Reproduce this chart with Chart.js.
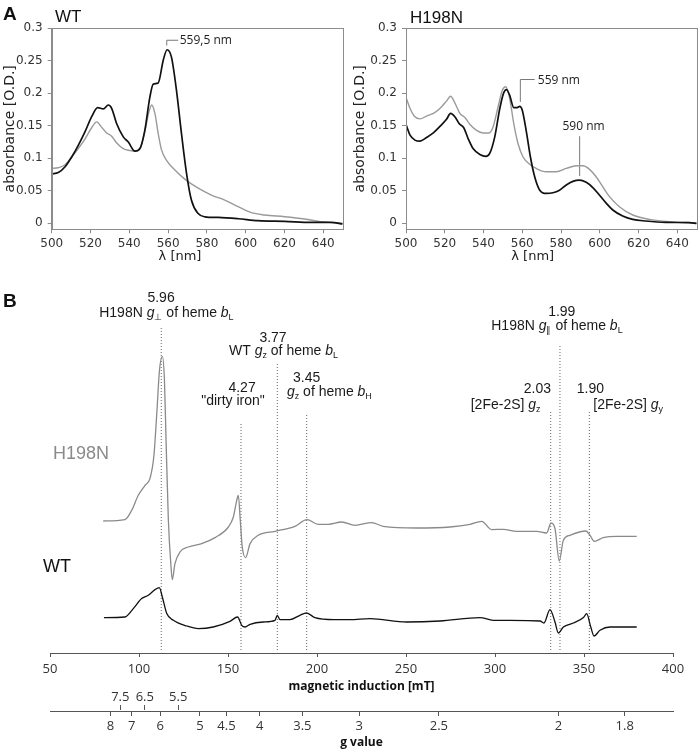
<!DOCTYPE html>
<html><head><meta charset="utf-8">
<script src="https://cdn.jsdelivr.net/npm/chart.js@4.4.1/dist/chart.umd.min.js"></script>
<style>
html,body{margin:0;padding:0;background:#fff;width:699px;height:751px;overflow:hidden;position:relative;}
canvas{position:absolute;display:block;}
.lbl{position:absolute;font-family:"Liberation Sans",Arial,sans-serif;white-space:nowrap;line-height:1;color:#111;}
</style></head><body>
<canvas id="cWT" width="350" height="270" style="left:0;top:0;width:350px;height:270px"></canvas>
<canvas id="cMut" width="349" height="270" style="left:350px;top:0;width:349px;height:270px"></canvas>
<canvas id="cEPR" width="699" height="420" style="left:0;top:280px;width:699px;height:420px"></canvas>
<canvas id="cG" width="699" height="60" style="left:0;top:691px;width:699px;height:60px"></canvas>
<div class="lbl" style="left:3px;top:4px;font-size:19px;font-weight:bold;">A</div>
<div class="lbl" style="left:55px;top:8px;font-size:17px;">WT</div>
<div class="lbl" style="left:410px;top:9px;font-size:17px;">H198N</div>
<div class="lbl" style="left:3px;top:291px;font-size:19px;font-weight:bold;">B</div>
<div class="lbl" style="left:53px;top:444px;font-size:18px;color:#8a8a8a;">H198N</div>
<div class="lbl" style="left:43px;top:557px;font-size:18px;">WT</div>
<script>
// ---------------- Panel A: absorbance spectra ----------------
const nmTickValues = [500,520,540,560,580,600,620,640];
const absTickValues = [0,0.05,0.1,0.15,0.2,0.25,0.3];
const absTickLabels = ['0','0.05','0.1','0.15','0.2','0.25','0.3'];

// WT, reduced (black)
const wtRedNm  = [500,503.4,506.9,510.3,513.7,517.2,520.6,523.7,526.6,529.2,530.9,533.4,536.9,539.5,542.9,545.5,548.0,550.6,552.3,554.9,557.5,559.5,561.7,564.3,566.9,569.5,572.0,575.5,578.9,585.8,596.1,606.3,620.1,633.8,644.1,650];
const wtRedAbs = [0.076,0.078,0.087,0.102,0.120,0.141,0.164,0.178,0.176,0.182,0.177,0.154,0.133,0.125,0.111,0.115,0.143,0.194,0.214,0.216,0.251,0.267,0.256,0.205,0.138,0.077,0.036,0.015,0.010,0.009,0.007,0.004,0.003,0.0015,0.0015,-0.001];
// WT, oxidized (grey)
const wtOxNm  = [500,503.4,506.9,510.3,513.7,517.2,520.6,523.2,525.7,528.3,530.9,533.4,536.9,540.3,542.9,545.5,548.0,550.1,551.5,553.2,554.9,556.6,559.2,563.5,568.6,575.5,582.3,589.2,596.1,602.9,609.8,620.1,630.4,638.9,650];
const wtOxAbs = [0.0844,0.0855,0.090,0.102,0.115,0.130,0.147,0.156,0.148,0.139,0.134,0.124,0.115,0.112,0.111,0.115,0.141,0.171,0.182,0.169,0.138,0.113,0.097,0.082,0.068,0.054,0.0435,0.0358,0.0256,0.0164,0.0128,0.0102,0.0067,0.0026,0];
// H198N, reduced (black)
const mutRedNm  = [500,502.1,504.6,507.2,510.6,514.1,517.5,520.9,523.0,525.2,527.4,529.8,532.1,534.6,538.1,541.2,543.2,545.8,548.4,550.4,551.8,553.5,555.6,557.3,558.7,560.0,562.1,564.2,566.4,569.0,572.4,575.8,579.2,582.7,586.1,589.5,593.0,596.4,599.8,603.3,606.7,611.8,617.0,623.8,634.1,646.1,650];
const mutRedAbs = [0.152,0.1356,0.128,0.1264,0.132,0.139,0.149,0.160,0.169,0.164,0.1535,0.147,0.130,0.115,0.106,0.103,0.1075,0.133,0.1766,0.2006,0.2057,0.197,0.178,0.178,0.180,0.174,0.141,0.102,0.0716,0.051,0.046,0.047,0.051,0.059,0.0645,0.0665,0.063,0.055,0.0435,0.031,0.0205,0.0113,0.0061,0.0036,0.0015,0.001,0];
// H198N, oxidized (grey)
const mutOxNm  = [500,502.1,504.6,507.2,510.6,514.1,517.5,520.9,523.0,525.2,527.8,530.4,532.9,536.4,539.8,542.9,544.9,547.5,549.7,551.5,553.5,555.6,557.8,560.4,563.8,567.2,572.4,577.5,582.7,587.8,591.3,594.7,598.1,601.5,605.0,610.1,617.0,625.6,634.1,650];
const mutOxAbs = [0.1935,0.1766,0.1638,0.1607,0.165,0.169,0.1766,0.188,0.1955,0.1853,0.169,0.1627,0.1525,0.143,0.139,0.139,0.148,0.179,0.2047,0.210,0.192,0.1535,0.1228,0.102,0.091,0.0844,0.0793,0.0793,0.0844,0.0885,0.0885,0.083,0.0716,0.0563,0.041,0.0256,0.0128,0.0061,0.003,0.0005];

// ---------------- Panel B: EPR spectra ----------------
const fieldTickValues = [50,100,150,200,250,300,350,400];
// H198N (grey trace), field in mT and signal in arbitrary units (offset trace)
const eprMutField  = [79.9,92.1,95.9,99.6,103.4,106.2,108.4,110.1,111.5,113.1,114.3,115.2,116.5,118.0,118.7,120.2,123.0,127.7,135.2,142.7,150.2,153.0,154.9,155.8,156.9,158.0,159.9,162.4,167.0,176.4,187.6,194.4,200.7,206.3,213.9,221.3,230.7,237.2,256.0,274.7,286.0,292.5,298.1,304.7,312.2,323.4,329.0,331.5,333.7,336.1,338.4,342.1,351.1,353.4,355.8,360.8,368.4,379.6];
const eprMutSignal = [132,133.4,142.7,157.7,167.7,174.7,197.7,242.7,282.7,296.7,272.7,212.7,132.7,86,73.4,89.4,101,106,109.4,115.4,126,136,152.7,157.7,132.7,106,95.4,109.4,117.7,121.7,126.7,133.4,128.7,128.7,131,127.7,130.4,126.7,125,126,128.7,131.7,123.4,123.7,121.7,121.7,120,130,124.4,92,112.7,117.7,122,117.7,111.7,115.4,116.7,116.7];
// WT (black trace)
const eprWtField  = [80.3,92.1,96.8,101.5,105.2,109.0,111.4,113.1,115.6,119.3,126.8,133.3,141.7,151.1,155.4,157.7,159.6,162.4,169.8,176.4,177.7,179.2,184.8,190.4,194.1,198.8,209.6,218.5,229.8,250.4,269.1,291.6,299.0,325.3,327.5,330.9,333.7,335.6,338.4,344.0,349.7,351.5,353.8,355.6,359.0,364.6,379.6];
const eprWtSignal = [35.4,36,44.4,54.4,57.7,63.4,65.4,56,39.4,32.7,27,24.4,26,31.7,36,27.7,26,28.7,31,32.7,37.7,33.4,33.4,37.7,40,35.4,33.4,33.4,34.4,31,32,35.4,32.7,32,30,43.4,31,20,26,30,35.4,39.4,26,17,22.7,26,26];
// marked resonances: g value, field position (mT) and upper end of the dotted marker
const markerG     = ['5.96','4.27','3.77','3.45','2.03','1.99','1.90'];
const markerField = [112.5,157.3,177.7,194.2,331.3,336.5,353.0];
const markerTop   = [325,231,289,238,241,309,241];

// ---------------- g-value axis ----------------
const B_TIMES_G = 671.2; // mT, B = (h*nu/muB)/g at ~9.39 GHz
const gTicksMain  = [8,7,6,5,4.5,4,3.5,3,2.5,2,1.8];
const gTicksUpper = [7.5,6.5,5.5];

// ---------------- helpers ----------------
function drawParts(ctx, parts, x, y, align, size, family, color) {
  ctx.save();
  ctx.fillStyle = color; ctx.textBaseline = 'middle'; ctx.textAlign = 'left';
  const fontFor = s => (s === 'i' ? 'italic ' : '') + (s === 'sub' ? Math.round(size * 0.66) : size) + 'px ' + family;
  let w = 0;
  parts.forEach(p => { ctx.font = fontFor(p[1]); w += ctx.measureText(p[0]).width; });
  let cx = align === 'left' ? x : (align === 'right' ? x - w : x - w / 2);
  parts.forEach(p => {
    ctx.font = fontFor(p[1]);
    ctx.fillText(p[0], cx, p[1] === 'sub' ? y + size * 0.32 : y);
    cx += ctx.measureText(p[0]).width;
  });
  ctx.restore();
}
function notesPlugin(id, items) {
  return {
    id: id,
    afterDatasetsDraw(chart) {
      const ctx = chart.ctx;
      items.forEach(it => {
        const px = it.pixel ? it.x : chart.scales.x.getPixelForValue(it.x);
        const py = it.pixel ? it.y : chart.scales.y.getPixelForValue(it.y);
        drawParts(ctx, it.parts, px, py, it.align || 'center', it.size, it.family, it.color || '#222');
      });
    }
  };
}
const framePlugin = {
  id: 'frame',
  afterDatasetsDraw(chart) {
    const a = chart.chartArea, ctx = chart.ctx;
    ctx.save(); ctx.strokeStyle = '#8c8c8c'; ctx.lineWidth = 1;
    ctx.strokeRect(Math.round(a.left) + 0.5, Math.round(a.top) + 0.5, Math.round(a.right - a.left), Math.round(a.bottom - a.top));
    ctx.restore();
  }
};
const pts = (xs, ys) => xs.map((x, i) => ({x: x, y: ys[i]}));
const SANS_A = '"DejaVu Sans", Verdana, sans-serif';
const SANS_B = '"Open Sans", "Noto Sans", sans-serif';
const ARIAL = '"Liberation Sans", Arial, sans-serif';

function absChart(id, yWidth, padRight, black, grey, notes, leaders, titleX) {
  const datasets = [
    {data: black, borderColor: '#111', borderWidth: 1.7, pointRadius: 0, cubicInterpolationMode: 'monotone'},
    {data: grey, borderColor: '#9a9a9a', borderWidth: 1.4, pointRadius: 0, cubicInterpolationMode: 'monotone'}
  ];
  leaders.forEach(l => datasets.push({data: l, borderColor: '#777', borderWidth: 1, pointRadius: 0, tension: 0}));
  notes.push({pixel: true, x: titleX, y: 256.5, parts: [['λ [nm]', '']], size: 13, family: SANS_A, color: '#222'});
  return new Chart(document.getElementById(id), {
    type: 'line',
    data: {datasets: datasets},
    options: {
      responsive: false, animation: false, devicePixelRatio: 1,
      layout: {padding: {top: 28.3, right: padRight, left: 0, bottom: 0}},
      plugins: {legend: {display: false}, tooltip: {enabled: false}},
      scales: {
        x: {type: 'linear', min: 500, max: 650,
          afterBuildTicks: s => { s.ticks = nmTickValues.map(v => ({value: v})); },
          afterFit: s => { s.height = 40.7; },
          ticks: {font: {family: SANS_A, size: 12}, color: '#333', padding: 3, maxRotation: 0, autoSkip: false, callback: v => String(v)},
          grid: {drawOnChartArea: false, tickLength: 4, color: '#8c8c8c'},
          border: {color: '#8c8c8c'}},
        y: {type: 'linear', min: -0.0092, max: 0.3,
          afterBuildTicks: s => { s.ticks = absTickValues.map(v => ({value: v})); },
          afterFit: s => { s.width = yWidth; },
          ticks: {font: {family: SANS_A, size: 12}, color: '#333', padding: 5, autoSkip: false, callback: (v, i) => absTickLabels[i]},
          grid: {drawOnChartArea: false, tickLength: 4, color: '#8c8c8c'},
          border: {color: '#8c8c8c'},
          title: {display: true, text: 'absorbance [O.D.]', font: {family: SANS_A, size: 14}, color: '#222', padding: {top: 2, bottom: 0}}}
      }
    },
    plugins: [framePlugin, notesPlugin(id + 'notes', notes)]
  });
}

absChart('cWT', 51.7, 7.3, pts(wtRedNm, wtRedAbs), pts(wtOxNm, wtOxAbs),
  [{x: 566, y: 0.2816, align: 'left', parts: [['559,5 nm', '']], size: 12, family: SANS_B, color: '#222'}],
  [[{x: 559.3, y: 0.2735}, {x: 559.3, y: 0.2816}, {x: 565.2, y: 0.2816}]], 180);

absChart('cMut', 56, 2.3, pts(mutRedNm, mutRedAbs), pts(mutOxNm, mutOxAbs),
  [{x: 568, y: 0.219, align: 'left', parts: [['559 nm', '']], size: 12, family: SANS_B, color: '#222'},
   {x: 591.6, y: 0.1485, align: 'center', parts: [['590 nm', '']], size: 12, family: SANS_B, color: '#222'}],
  [[{x: 559, y: 0.1868}, {x: 559, y: 0.2212}, {x: 566.4, y: 0.2212}],
   [{x: 589.6, y: 0.0727}, {x: 589.6, y: 0.134}]], 182.7);

// ---------------- EPR chart ----------------
const eprNotes = [
  {x: 112.4, y: 355, parts: [['5.96', '']]},
  {x: 115.4, y: 340, parts: [['H198N ', ''], ['g', 'i'], ['⊥', 'sub'], [' of heme ', ''], ['b', 'i'], ['L', 'sub']]},
  {x: 175.3, y: 315, parts: [['3.77', '']]},
  {x: 181.2, y: 302, parts: [['WT ', ''], ['g', 'i'], ['z', 'sub'], [' of heme ', ''], ['b', 'i'], ['L', 'sub']]},
  {x: 157.9, y: 265, parts: [['4.27', '']]},
  {x: 152.8, y: 252, parts: [['"dirty iron"', '']]},
  {x: 194.2, y: 275, parts: [['3.45', '']]},
  {x: 183.1, y: 261, align: 'left', parts: [['g', 'i'], ['z', 'sub'], [' of heme ', ''], ['b', 'i'], ['H', 'sub']]},
  {x: 337.5, y: 341.3, parts: [['1.99', '']]},
  {x: 334.8, y: 327.3, parts: [['H198N ', ''], ['g', 'i'], ['∥', 'sub'], [' of heme ', ''], ['b', 'i'], ['L', 'sub']]},
  {x: 331.5, y: 263.7, align: 'right', parts: [['2.03', '']]},
  {x: 325.6, y: 248, align: 'right', parts: [['[2Fe-2S] ', ''], ['g', 'i'], ['z', 'sub']]},
  {x: 345.9, y: 263.7, align: 'left', parts: [['1.90', '']]},
  {x: 355.2, y: 248, align: 'left', parts: [['[2Fe-2S] ', ''], ['g', 'i'], ['y', 'sub']]}
].map(n => Object.assign({size: 14, family: ARIAL, color: '#1a1a1a'}, n));

const eprSets = [
  {data: pts(eprMutField, eprMutSignal), borderColor: '#8a8a8a', borderWidth: 1.3, pointRadius: 0, cubicInterpolationMode: 'monotone'},
  {data: pts(eprWtField, eprWtSignal), borderColor: '#111', borderWidth: 1.3, pointRadius: 0, cubicInterpolationMode: 'monotone'}
];
markerField.forEach((f, i) => eprSets.push({
  label: 'g = ' + markerG[i],
  data: [{x: f, y: 3}, {x: f, y: markerTop[i]}],
  borderColor: '#666', borderWidth: 1, borderDash: [1, 2], pointRadius: 0, tension: 0
}));

new Chart(document.getElementById('cEPR'), {
  type: 'line',
  data: {datasets: eprSets},
  options: {
    responsive: false, animation: false, devicePixelRatio: 1,
    layout: {padding: {top: 0, right: 26, left: 50, bottom: 0}},
    plugins: {legend: {display: false}, tooltip: {enabled: false}},
    scales: {
      x: {type: 'linear', min: 50, max: 400,
        afterBuildTicks: s => { s.ticks = fieldTickValues.map(v => ({value: v})); },
        afterFit: s => { s.height = 47; },
        ticks: {font: {family: SANS_B, size: 13}, color: '#333', padding: 4, maxRotation: 0, autoSkip: false, callback: v => String(v)},
        grid: {drawOnChartArea: false, tickLength: 4, color: '#555'},
        border: {color: '#555'},
        title: {display: true, text: 'magnetic induction [mT]', font: {family: SANS_B, size: 12, weight: 'bold'}, color: '#111', padding: {top: 0, bottom: 6}}},
      y: {type: 'linear', min: 0, max: 373, display: false}
    }
  },
  plugins: [notesPlugin('eprNotes', eprNotes)]
});

// ---------------- g-value axis chart ----------------
new Chart(document.getElementById('cG'), {
  type: 'line',
  data: {datasets: []},
  options: {
    responsive: false, animation: false, devicePixelRatio: 1,
    layout: {padding: {top: 0, right: 26, left: 50, bottom: 0}},
    plugins: {legend: {display: false}, tooltip: {enabled: false}},
    scales: {
      gUpper: {axis: 'x', type: 'linear', position: 'top', min: 50, max: 400,
        afterBuildTicks: s => { s.ticks = gTicksUpper.map(g => ({value: B_TIMES_G / g})); },
        afterFit: s => { s.height = 19; },
        ticks: {font: {family: SANS_B, size: 13}, color: '#333', padding: 0, maxRotation: 0, autoSkip: false, callback: (v, i) => String(gTicksUpper[i])},
        grid: {drawOnChartArea: false, tickLength: 5, color: '#555'},
        border: {display: false}},
      gMain: {axis: 'x', type: 'linear', position: 'bottom', min: 50, max: 400,
        afterBuildTicks: s => { s.ticks = gTicksMain.map(g => ({value: B_TIMES_G / g})); },
        afterFit: s => { s.height = 40; },
        ticks: {font: {family: SANS_B, size: 13}, color: '#333', padding: 2, maxRotation: 0, autoSkip: false, callback: (v, i) => String(gTicksMain[i])},
        grid: {drawOnChartArea: false, tickLength: 5, color: '#555'},
        border: {display: true, color: '#555'},
        title: {display: true, text: 'g value', font: {family: SANS_B, size: 12, weight: 'bold'}, color: '#111', padding: {top: 0, bottom: 1}}},
      y: {type: 'linear', min: 0, max: 1, display: false}
    }
  }
});
</script>
</body></html>
